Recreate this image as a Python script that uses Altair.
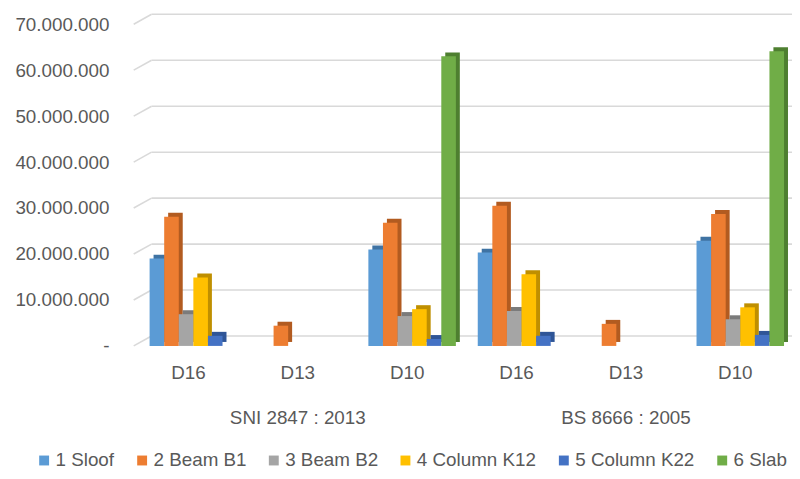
import altair as alt
import pandas as pd

groups = ["SNI 2847 : 2013", "BS 8666 : 2005"]
diameters = ["D16", "D13", "D10"]
series = ["1 Sloof", "2 Beam B1", "3 Beam B2", "4 Column K12", "5 Column K22", "6 Slab"]
colors = ["#5b9bd5", "#ed7d31", "#a5a5a5", "#ffc000", "#4472c4", "#70ad47"]
dark_colors = ["#3f73a3", "#b25b20", "#7b7b7b", "#bf8f00", "#2f5597", "#4e7f30"]

# values per group, per diameter, per series (order of `series`)
sni_d16 = [19000000, 28100000, 6900000, 14900000, 2200000, 0]
sni_d13 = [0, 4400000, 0, 0, 0, 0]
sni_d10 = [21000000, 26800000, 6500000, 8000000, 1500000, 63000000]
bs_d16 = [20300000, 30500000, 7600000, 15600000, 2200000, 0]
bs_d13 = [0, 4800000, 0, 0, 0, 0]
bs_d10 = [22900000, 28700000, 5800000, 8400000, 2400000, 64100000]

y_ticks = [0, 10000000, 20000000, 30000000, 40000000, 50000000, 60000000, 70000000]

values = {
    (groups[0], "D16"): sni_d16, (groups[0], "D13"): sni_d13, (groups[0], "D10"): sni_d10,
    (groups[1], "D16"): bs_d16, (groups[1], "D13"): bs_d13, (groups[1], "D10"): bs_d10,
}

keys = [f"{g}|{d}" for g in groups for d in diameters]
rows = []
for g in groups:
    for d in diameters:
        for s, v in zip(series, values[(g, d)]):
            rows.append({"key": f"{g}|{d}", "series": s, "value": v})
df = pd.DataFrame(rows)

grid_df = pd.DataFrame({"v": y_ticks})
group_df = pd.DataFrame({"key": [f"{g}|D13" for g in groups], "label": groups})

FONT = "Liberation Sans"
TXT = "#595959"
W, H = 663, 325
DX, DY = 18, -10
BW = 88.4  # band width of one category (step 110.5, paddingInner 0.2)

x_enc = alt.X("key:N", sort=keys, title=None,
              scale=alt.Scale(paddingInner=0.2, paddingOuter=0.1),
              axis=alt.Axis(labelExpr="split(datum.label, '|')[1]", labelAngle=0,
                            domain=False, ticks=False, labelPadding=18,
                            labelFontSize=19, labelFont=FONT, labelColor=TXT))
y_scale = alt.Scale(domain=[0, 70000000], nice=False)

grid_h = alt.Chart(grid_df).mark_rule(color="#d9d9d9", strokeWidth=1.6, yOffset=DY).encode(
    y=alt.Y("v:Q", scale=y_scale),
    x=alt.value(DX), x2=alt.value(W + 4),
)
grid_s = alt.Chart(grid_df).mark_rule(color="#d9d9d9", strokeWidth=1.6, y2Offset=DY).encode(
    y=alt.Y("v:Q", scale=y_scale), y2="v:Q",
    x=alt.value(0), x2=alt.value(DX),
)

shadow = alt.Chart(df).mark_bar(yOffset=-4, y2Offset=-4).encode(
    x=x_enc,
    xOffset=alt.XOffset("series:N", sort=series, scale=alt.Scale(range=[9, 9 + BW])),
    y=alt.Y("value:Q", scale=y_scale),
    color=alt.Color("series:N", sort=series, scale=alt.Scale(domain=series, range=dark_colors), legend=None),
)

bars = alt.Chart(df).mark_bar().encode(
    x=x_enc,
    xOffset=alt.XOffset("series:N", sort=series, scale=alt.Scale(range=[5, 5 + BW])),
    y=alt.Y("value:Q", scale=y_scale, title=None,
            axis=alt.Axis(values=y_ticks, format=",.0f",
                          labelExpr="datum.value == 0 ? '-' : replace(replace(datum.label, ',', '.'), ',', '.')",
                          domain=False, ticks=False, grid=False, labelPadding=25,
                          labelFontSize=19, labelFont=FONT, labelColor=TXT)),
    color=alt.Color("series:N", sort=series, scale=alt.Scale(domain=series, range=colors),
                    legend=alt.Legend(title=None, orient="none", direction="horizontal",
                                      legendX=-100, legendY=431, symbolType="square",
                                      symbolSize=100, symbolStrokeWidth=0, labelOffset=2,
                                      columnPadding=18, labelFontSize=19, labelFont=FONT,
                                      labelColor=TXT, columns=6)),
)

group_labels = alt.Chart(group_df).mark_text(fontSize=19, font=FONT, color=TXT, baseline="middle").encode(
    x=alt.X("key:N", sort=keys),
    y=alt.value(398),
    text="label:N",
)

chart = alt.layer(grid_h, grid_s, shadow, bars, group_labels).resolve_scale(
    color="independent", xOffset="independent"
).properties(
    width=W, height=H,
    autosize=alt.AutoSizeParams(type="none"),
    padding={"left": 127, "top": 14, "right": 2, "bottom": 124},
).configure_view(stroke=None)

chart.save("out.html", embed_options={"renderer": "svg", "actions": False})
